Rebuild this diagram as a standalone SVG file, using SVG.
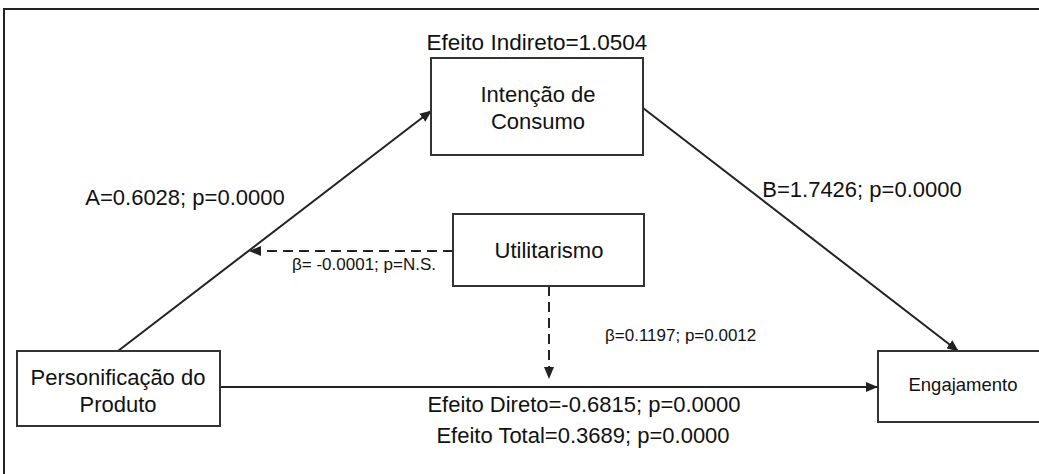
<svg xmlns="http://www.w3.org/2000/svg" width="1039" height="474" viewBox="0 0 1039 474">
<defs>
<style>
.box{fill:#fff;stroke:#333;stroke-width:2}
.t{font-family:"Liberation Sans",Arial,sans-serif;fill:#111}
.c{stroke:#222;stroke-width:2;fill:none}
.d{stroke:#222;stroke-width:2;fill:none;stroke-dasharray:10 6}
</style>
<marker id="ah" markerWidth="12" markerHeight="10" refX="11" refY="5" orient="auto" markerUnits="userSpaceOnUse">
<path d="M0,0 L12,5 L0,10 Z" fill="#222"/>
</marker>
</defs>
<rect x="0" y="0" width="1039" height="474" fill="#fff"/>
<path d="M4,474 V9 H1039" fill="none" stroke="#222" stroke-width="2"/>
<g id="connectors">
<line class="c" x1="118" y1="351" x2="431" y2="111" marker-end="url(#ah)"/>
<line class="c" x1="643" y1="108" x2="958" y2="351" marker-end="url(#ah)"/>
<line class="c" x1="220" y1="387" x2="877" y2="387" marker-end="url(#ah)"/>
<line class="d" x1="453" y1="251" x2="250" y2="251" marker-end="url(#ah)"/>
<line class="d" x1="549" y1="286" x2="549" y2="378" marker-end="url(#ah)"/>
</g>
<g id="intencao">
<rect class="box" x="431" y="58" width="212" height="97"/>
<text class="t" x="538" y="102" font-size="22" text-anchor="middle">Intenção de</text>
<text class="t" x="538" y="129" font-size="22" text-anchor="middle">Consumo</text>
</g>
<g id="utilitarismo">
<rect class="box" x="453" y="214" width="191" height="72"/>
<text class="t" x="549" y="258" font-size="22" text-anchor="middle">Utilitarismo</text>
</g>
<g id="personificacao">
<rect class="box" x="17" y="351" width="203" height="75"/>
<text class="t" x="118" y="385" font-size="22" text-anchor="middle">Personificação do</text>
<text class="t" x="118" y="412" font-size="22" text-anchor="middle">Produto</text>
</g>
<g id="engajamento">
<rect class="box" x="878" y="351" width="170" height="71"/>
<text class="t" x="963" y="391" font-size="18.5" text-anchor="middle">Engajamento</text>
</g>
<g id="labels">
<text class="t" x="537" y="50" font-size="22.5" text-anchor="middle">Efeito Indireto=1.0504</text>
<text class="t" x="185" y="205" font-size="22" text-anchor="middle">A=0.6028; p=0.0000</text>
<text class="t" x="862" y="197" font-size="22" text-anchor="middle">B=1.7426; p=0.0000</text>
<text class="t" x="292" y="270" font-size="17">β= -0.0001; p=N.S.</text>
<text class="t" x="605" y="341" font-size="17">β=0.1197; p=0.0012</text>
<text class="t" x="584" y="412" font-size="22" text-anchor="middle">Efeito Direto=-0.6815; p=0.0000</text>
<text class="t" x="583" y="443" font-size="22" text-anchor="middle">Efeito Total=0.3689; p=0.0000</text>
</g>
</svg>
